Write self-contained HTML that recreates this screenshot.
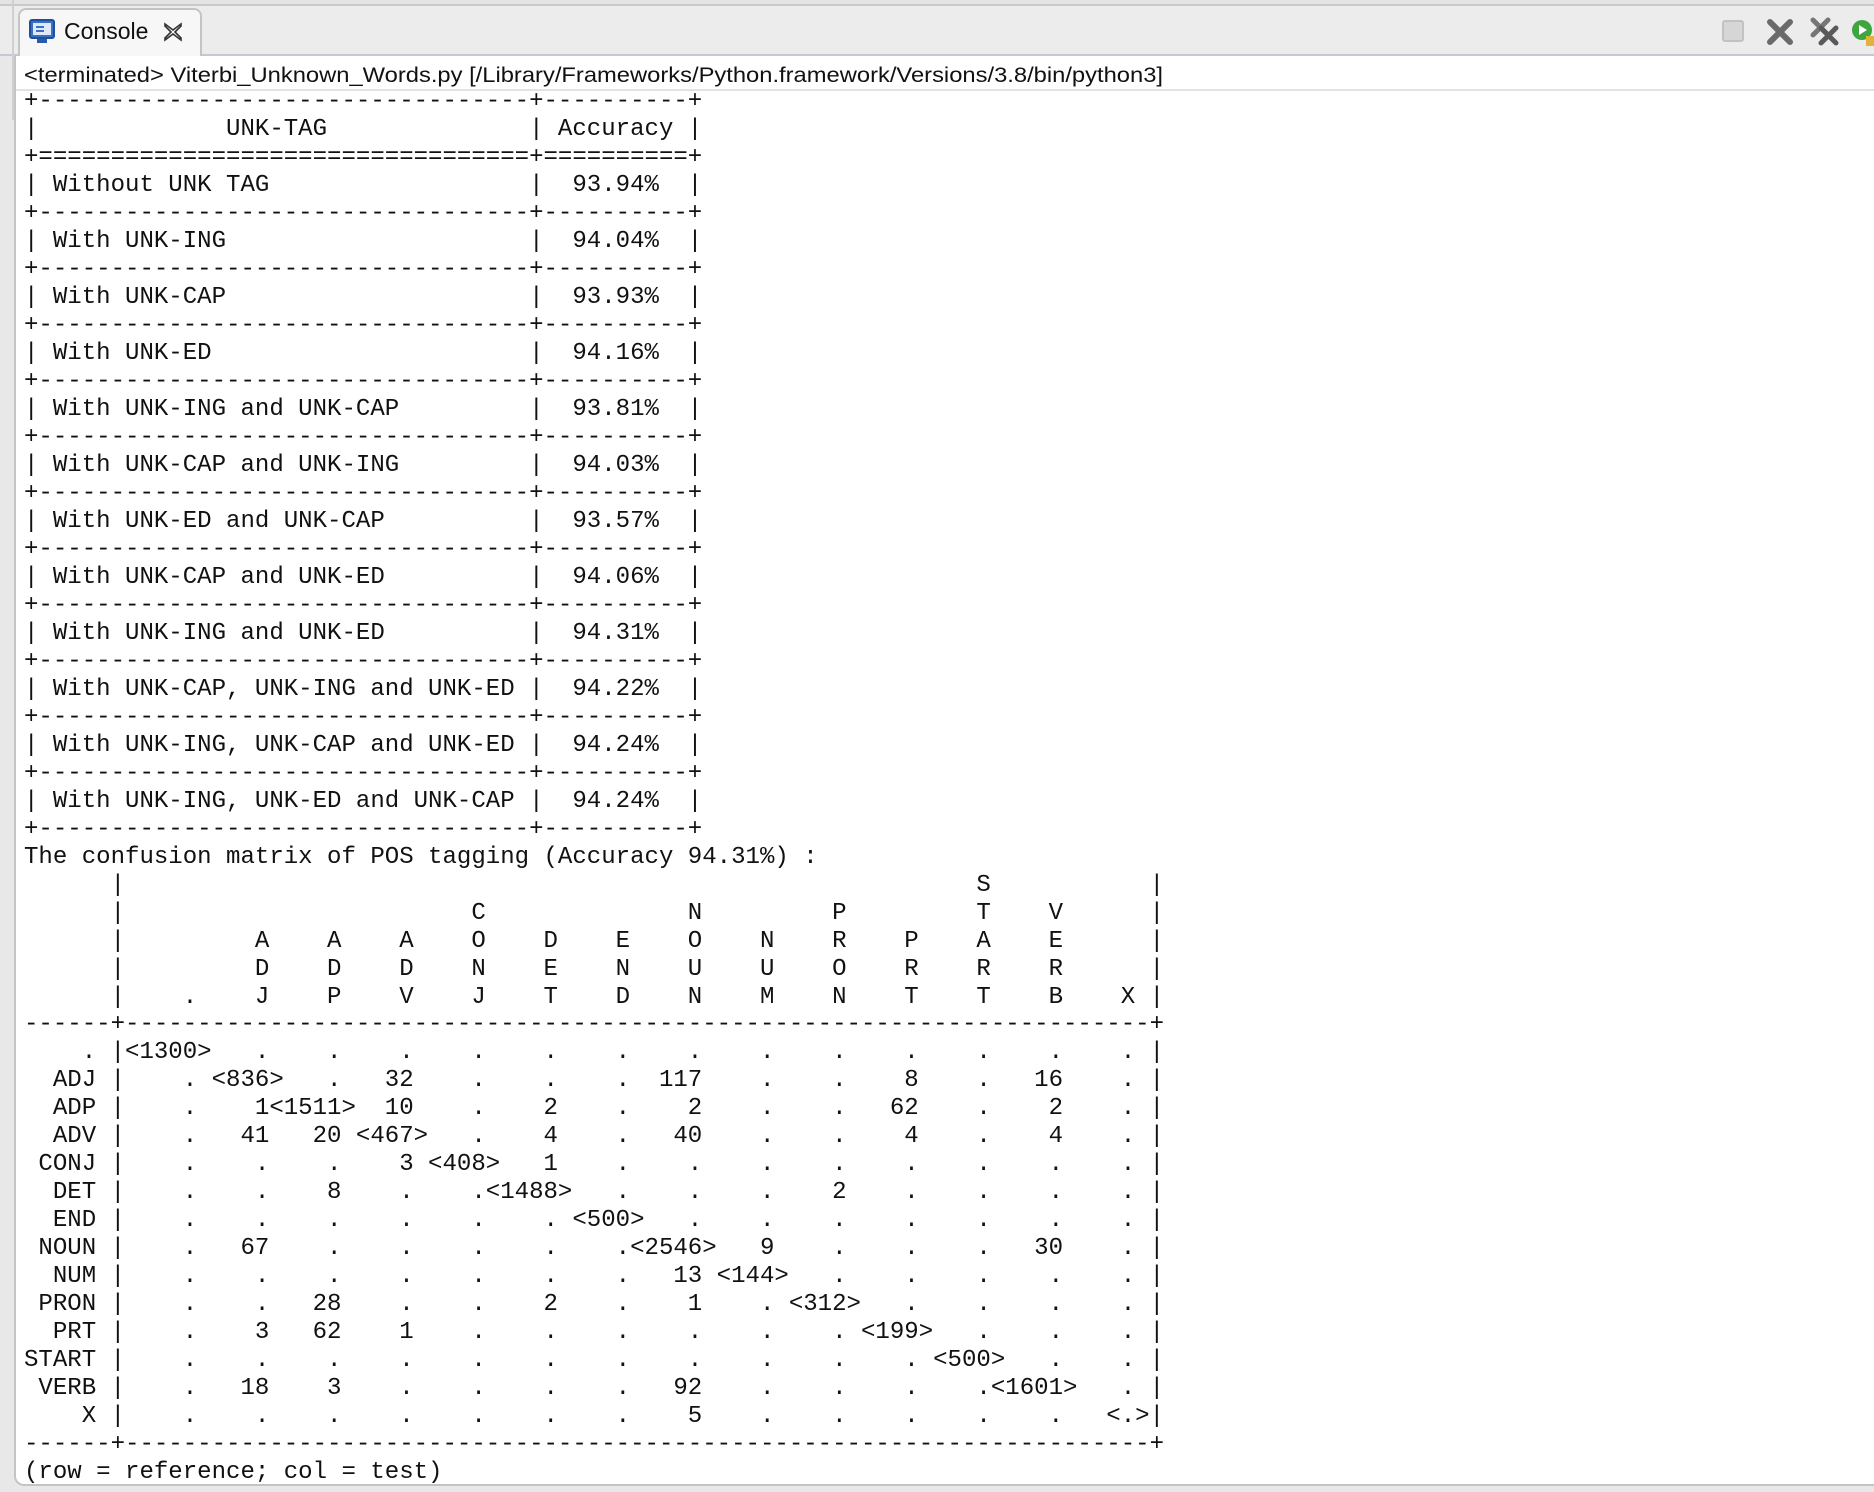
<!DOCTYPE html>
<html><head><meta charset="utf-8"><style>
html,body{margin:0;padding:0;}
body{width:1874px;height:1492px;background:#e8e8e8;position:relative;overflow:hidden;font-family:"Liberation Sans",sans-serif;}
.topline{position:absolute;left:0;top:0;width:1874px;height:4px;background:#e4e4e4;border-bottom:2px solid #c9c9c9;}
.bar{position:absolute;left:0;top:6px;width:1874px;height:48px;background:#ececec;border-bottom:2px solid #c3c8d2;}
.panel{position:absolute;left:14px;top:56px;width:1870px;height:1428px;background:#fff;border-left:2px solid #c4c4c4;border-bottom:2px solid #c4c4c4;border-bottom-left-radius:10px;}
.tab{position:absolute;left:18px;top:8px;width:180px;height:50px;background:#f7f7f7;border:2px solid #c4c4c4;border-bottom:none;border-radius:8px 8px 0 0;}
.tabtxt{position:absolute;left:64px;top:18px;font-size:23px;color:#111;}
.sep{position:absolute;left:16px;top:89px;width:1858px;height:2px;background:#e2e2e2;}
pre{position:absolute;left:24px;top:88px;margin:0;font-family:"Liberation Mono",monospace;font-size:24.05px;line-height:27.98px;color:#111;}
.leftstrip{position:absolute;left:0;top:0;width:12px;height:120px;border-right:2px solid #d0d0d0;}
</style></head><body>
<div class="topline"></div>
<div class="bar"></div>
<div class="leftstrip"></div>
<div class="tab"></div>
<svg style="position:absolute;left:28px;top:18px" width="28" height="28" viewBox="0 0 28 28">
<rect x="2" y="2" width="24" height="18" rx="2" fill="#3a6fc4" stroke="#1e4f9c" stroke-width="2"/>
<rect x="5" y="5" width="18" height="12" fill="#dfe8f7"/>
<line x1="8" y1="9" x2="16" y2="9" stroke="#3a6fc4" stroke-width="2"/>
<line x1="8" y1="13" x2="16" y2="13" stroke="#3a6fc4" stroke-width="2"/>
<rect x="9" y="21" width="10" height="4" fill="#2b5aa8"/>
</svg>
<div class="tabtxt">Console</div>
<svg style="position:absolute;left:162px;top:21px" width="22" height="22" viewBox="0 0 22 22">
<path d="M3 3 L11 9 L19 3 L19 5 L13 11 L19 17 L19 19 L11 13 L3 19 L3 17 L9 11 L3 5 Z" fill="none" stroke="#333" stroke-width="1.6"/>
</svg>
<svg style="position:absolute;left:1718px;top:16px" width="156" height="32" viewBox="0 0 156 32">
<rect x="5" y="5" width="20" height="20" rx="2" fill="#d6d6d6" stroke="#c2c2c2" stroke-width="2"/>
<path d="M52 6 L72 26 M72 6 L52 26" stroke="#6a6a6a" stroke-width="6" stroke-linecap="round"/>
<path d="M95 4 L110 19 M110 4 L95 19" stroke="#777" stroke-width="5" stroke-linecap="round" fill="none"/>
<path d="M103 12 L118 27 M118 12 L103 27" stroke="#5a5a5a" stroke-width="5" stroke-linecap="round"/>
<circle cx="144" cy="14" r="10" fill="#3fa53f"/>
<path d="M141 9 L149 14 L141 19 Z" fill="#fff"/>
<rect x="148" y="20" width="8" height="10" fill="#e2b23a"/>
</svg>
<div class="panel"></div>
<div class="sep"></div>
<svg style="position:absolute;left:24px;top:59px" width="1160" height="32">
<text x="0" y="23" font-family="Liberation Sans, sans-serif" font-size="21.5" fill="#111" textLength="1139" lengthAdjust="spacingAndGlyphs">&lt;terminated&gt; Viterbi_Unknown_Words.py [/Library/Frameworks/Python.framework/Versions/3.8/bin/python3]</text>
</svg>
<pre>+----------------------------------+----------+
|             UNK-TAG              | Accuracy |
+==================================+==========+
| Without UNK TAG                  |  93.94%  |
+----------------------------------+----------+
| With UNK-ING                     |  94.04%  |
+----------------------------------+----------+
| With UNK-CAP                     |  93.93%  |
+----------------------------------+----------+
| With UNK-ED                      |  94.16%  |
+----------------------------------+----------+
| With UNK-ING and UNK-CAP         |  93.81%  |
+----------------------------------+----------+
| With UNK-CAP and UNK-ING         |  94.03%  |
+----------------------------------+----------+
| With UNK-ED and UNK-CAP          |  93.57%  |
+----------------------------------+----------+
| With UNK-CAP and UNK-ED          |  94.06%  |
+----------------------------------+----------+
| With UNK-ING and UNK-ED          |  94.31%  |
+----------------------------------+----------+
| With UNK-CAP, UNK-ING and UNK-ED |  94.22%  |
+----------------------------------+----------+
| With UNK-ING, UNK-CAP and UNK-ED |  94.24%  |
+----------------------------------+----------+
| With UNK-ING, UNK-ED and UNK-CAP |  94.24%  |
+----------------------------------+----------+
The confusion matrix of POS tagging (Accuracy 94.31%) :
      |                                                           S           |
      |                        C              N         P         T    V      |
      |         A    A    A    O    D    E    O    N    R    P    A    E      |
      |         D    D    D    N    E    N    U    U    O    R    R    R      |
      |    .    J    P    V    J    T    D    N    M    N    T    T    B    X |
------+-----------------------------------------------------------------------+
    . |&lt;1300&gt;   .    .    .    .    .    .    .    .    .    .    .    .    . |
  ADJ |    . &lt;836&gt;   .   32    .    .    .  117    .    .    8    .   16    . |
  ADP |    .    1&lt;1511&gt;  10    .    2    .    2    .    .   62    .    2    . |
  ADV |    .   41   20 &lt;467&gt;   .    4    .   40    .    .    4    .    4    . |
 CONJ |    .    .    .    3 &lt;408&gt;   1    .    .    .    .    .    .    .    . |
  DET |    .    .    8    .    .&lt;1488&gt;   .    .    .    2    .    .    .    . |
  END |    .    .    .    .    .    . &lt;500&gt;   .    .    .    .    .    .    . |
 NOUN |    .   67    .    .    .    .    .&lt;2546&gt;   9    .    .    .   30    . |
  NUM |    .    .    .    .    .    .    .   13 &lt;144&gt;   .    .    .    .    . |
 PRON |    .    .   28    .    .    2    .    1    . &lt;312&gt;   .    .    .    . |
  PRT |    .    3   62    1    .    .    .    .    .    . &lt;199&gt;   .    .    . |
START |    .    .    .    .    .    .    .    .    .    .    . &lt;500&gt;   .    . |
 VERB |    .   18    3    .    .    .    .   92    .    .    .    .&lt;1601&gt;   . |
    X |    .    .    .    .    .    .    .    5    .    .    .    .    .   &lt;.&gt;|
------+-----------------------------------------------------------------------+
(row = reference; col = test)</pre>
</body></html>
